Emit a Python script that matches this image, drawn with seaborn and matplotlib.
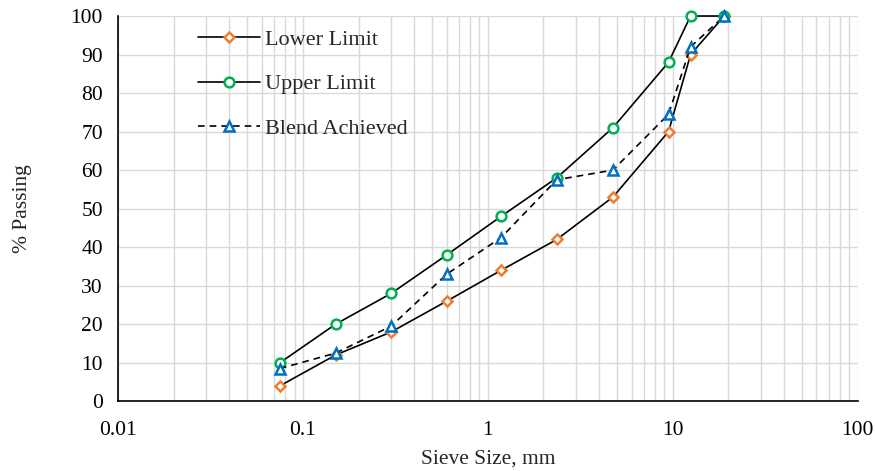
import numpy as np
import pandas as pd
import seaborn as sns
from matplotlib import pyplot as plt
from matplotlib.ticker import LogLocator, FixedLocator, NullFormatter

sieve_mm = [0.075, 0.15, 0.3, 0.6, 1.18, 2.36, 4.75, 9.5, 12.5, 19.0]
lower_limit = [4, 12, 18, 26, 34, 42, 53, 70, 90, 100]
upper_limit = [10, 20, 28, 38, 48, 58, 71, 88, 100, 100]
blend = [8.5, 12.5, 19.5, 33, 42.5, 57.5, 60, 74.5, 92, 100]

df = pd.DataFrame({'sieve': sieve_mm * 3,
                   'passing': lower_limit + upper_limit + blend,
                   'series': ['Lower Limit'] * 10 + ['Upper Limit'] * 10 + ['Blend Achieved'] * 10})

sns.set_style('white')
plt.rcParams['font.family'] = ['Liberation Serif', 'DejaVu Serif']

fig, ax = plt.subplots(figsize=(8.75, 4.71), dpi=100)
fig.subplots_adjust(left=0.135, right=0.98, top=0.966, bottom=0.148)

styles = {
    'Lower Limit': dict(marker='D', color='#ED7D31', ms=5.5, ls='-'),
    'Upper Limit': dict(marker='o', color='#00B050', ms=7, ls='-'),
    'Blend Achieved': dict(marker='^', color='#0070C0', ms=7, ls=(0, (4, 3))),
}
for name, st in styles.items():
    sub = df[df['series'] == name]
    sns.lineplot(data=sub, x='sieve', y='passing', ax=ax, color='black', lw=1.2,
                 linestyle=st['ls'], marker=st['marker'], markersize=st['ms'],
                 markerfacecolor='white', markeredgecolor=st['color'], markeredgewidth=1.8,
                 label=name, zorder=3, clip_on=False)

ax.set_xscale('log')
ax.set_xlim(0.01, 100)
ax.set_ylim(0, 100)
ax.set_yticks(np.arange(0, 101, 10))
ax.xaxis.set_major_locator(FixedLocator([0.01, 0.1, 1, 10, 100]))
ax.set_xticklabels(['0.01', '0.1', '1', '10', '100'])
ax.xaxis.set_minor_locator(LogLocator(base=10, subs=np.arange(2, 10)))
ax.xaxis.set_minor_formatter(NullFormatter())
ax.grid(which='both', axis='x', color='#d9d9d9', lw=1)
ax.grid(which='major', axis='y', color='#d9d9d9', lw=1)
ax.set_axisbelow(True)
for s in ['top', 'right']:
    ax.spines[s].set_visible(False)
for s in ['left', 'bottom']:
    ax.spines[s].set_color('black')
    ax.spines[s].set_linewidth(1.2)
ax.tick_params(axis='x', which='major', direction='out', length=5, width=1, colors='black',
               labelsize=15.5, pad=9)
ax.tick_params(axis='x', which='minor', length=0)
ax.tick_params(axis='y', direction='out', length=5, width=1, colors='black', labelsize=15.5, pad=6)
ax.set_xlabel('Sieve Size, mm', fontsize=15.5, labelpad=7)
ax.set_ylabel('% Passing', fontsize=15.5, labelpad=28)

leg = ax.legend(loc='upper left', bbox_to_anchor=(0.09, 1.0), frameon=False, fontsize=16,
                handlelength=2.8, labelspacing=1.08, handletextpad=0.2, borderaxespad=0.2)
fig.savefig('out.png', dpi=100)
